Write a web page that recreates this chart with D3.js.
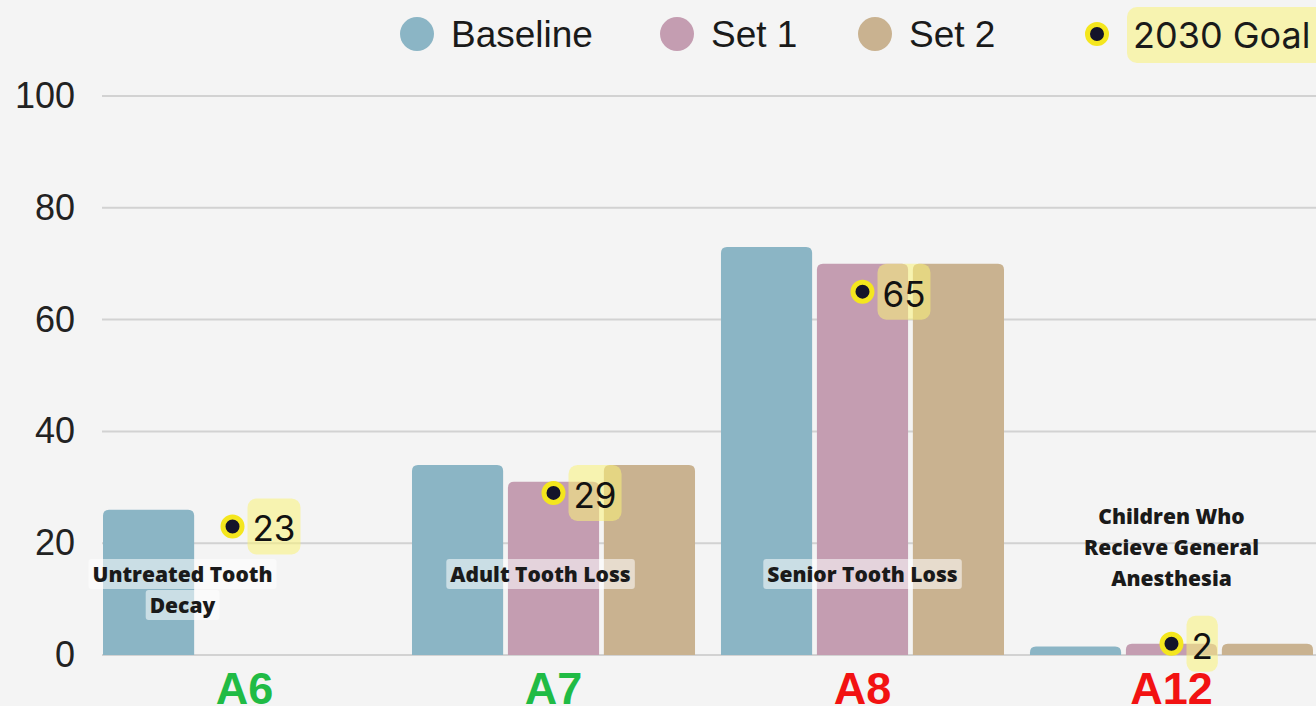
<!DOCTYPE html>
<html>
<head>
<meta charset="utf-8">
<script src="https://cdn.jsdelivr.net/npm/d3@7"></script>
<style>
  html, body { margin: 0; padding: 0; background: #f4f4f4; overflow: hidden; }
  svg { display: block; }
</style>
</head>
<body>
<div class="canvas"></div>
<script>
// data
const codes = ['A6', 'A7', 'A8', 'A12'];
const names = [['Untreated Tooth', 'Decay'], ['Adult Tooth Loss'], ['Senior Tooth Loss'], ['Children Who', 'Recieve General', 'Anesthesia']];
const codeStatus = ['good', 'good', 'bad', 'bad'];
const seriesNames = ['Baseline', 'Set 1', 'Set 2'];
const baseline = [26, 34, 73, 1.5];
const set1 = [null, 31, 70, 2];
const set2 = [null, 34, 70, 2];
const goal = [23, 29, 65, 2];
const yTicks = [0, 20, 40, 60, 80, 100];

// layout
const W = 1316, H = 706;
const colors = {'Baseline': '#8bb5c5', 'Set 1': '#c49db1', 'Set 2': '#c9b290'};
const statusColor = {good: '#20bb45', bad: '#f21212'};
const nameDx = [-62, -13, 0, 0];     // label shifts inside each group
const nameTop = [574, 574, 574, 516];
const legendX = [417, 677, 875, 1097];

const svg = d3.select('.canvas')
    .append('svg')
    .attr('width', W)
    .attr('height', H);

svg.append('rect').attr('width', W).attr('height', H).attr('fill', '#f4f4f4');

// scales
const y = d3.scaleLinear().domain([0, 100]).range([655, 96]);
const x0 = d3.scaleBand().domain(codes).range([103, 1313]).paddingInner(0.084).paddingOuter(0);
const x1 = d3.scaleBand().domain(seriesNames).range([0, x0.bandwidth()]).paddingInner(0.05);

// grid
svg.append('g')
    .selectAll('line')
    .data(yTicks)
    .join('line')
    .attr('x1', 102).attr('x2', W)
    .attr('y1', d => y(d)).attr('y2', d => y(d))
    .attr('stroke', '#d2d2d2')
    .attr('stroke-width', 2);

// y axis
const yAxis = d3.axisLeft(y).tickValues(yTicks).tickSize(0).tickPadding(5);
const yAxisGroup = svg.append('g').attr('transform', 'translate(80,0)').call(yAxis);
yAxisGroup.select('.domain').remove();
yAxisGroup.selectAll('text')
    .attr('font-family', 'Liberation Sans, Arial, sans-serif')
    .attr('font-size', 36)
    .attr('fill', '#222');

// bars with rounded top corners
const topRounded = (bx, by, bw, bh, r) => {
    r = Math.min(r, bh, bw / 2);
    return `M${bx},${by + bh}V${by + r}Q${bx},${by} ${bx + r},${by}H${bx + bw - r}Q${bx + bw},${by} ${bx + bw},${by + r}V${by + bh}Z`;
};

const seriesValues = [baseline, set1, set2];
const barData = [];
codes.forEach((c, i) => {
    seriesNames.forEach((s, j) => {
        const v = seriesValues[j][i];
        if (v != null) barData.push({code: c, series: s, value: v});
    });
});

svg.append('g')
    .selectAll('path')
    .data(barData)
    .join('path')
    .attr('fill', d => colors[d.series])
    .attr('d', d => {
        const bx = x0(d.code) + x1(d.series);
        return topRounded(bx, y(d.value), x1.bandwidth(), y(0) - y(d.value), 6);
    });

// category names with soft boxes
const nameGroup = svg.append('g');
codes.forEach((c, i) => {
    const cx = x0(c) + x0.bandwidth() / 2 + nameDx[i];
    names[i].forEach((line, k) => {
        const ty = nameTop[i] + k * 31;
        const box = nameGroup.append('rect');
        const t = nameGroup.append('text')
            .attr('x', cx).attr('y', ty)
            .attr('text-anchor', 'middle')
            .attr('dominant-baseline', 'central')
            .attr('font-family', 'Open Sans, sans-serif')
            .attr('font-weight', 800)
            .attr('font-size', 21)
            .attr('fill', '#1a1a1a')
            .text(line);
        const bb = t.node().getBBox();
        if (i < 3) {
            box.attr('x', bb.x - 4).attr('y', bb.y - 1)
                .attr('width', bb.width + 8).attr('height', bb.height + 2)
                .attr('rx', 3)
                .attr('fill', 'rgba(255,255,255,0.55)');
        }
    });
});

// 2030 goal markers
const goalGroup = svg.append('g');
codes.forEach((c, i) => {
    const gx = x0(c) + x0.bandwidth() / 2 - (i === 0 ? 12 : 0);
    const gy = y(goal[i]);
    const box = goalGroup.append('rect');
    const t = goalGroup.append('text')
        .attr('x', gx + 20).attr('y', gy + 2)
        .attr('dominant-baseline', 'central')
        .attr('font-family', 'Inter, sans-serif')
        .attr('font-size', 35)
        .attr('fill', '#111')
        .text(goal[i]);
    const bb = t.node().getBBox();
    box.attr('x', bb.x - 5).attr('y', gy - 28)
        .attr('width', bb.width + 10).attr('height', 56)
        .attr('rx', 9)
        .attr('fill', 'rgba(250,242,120,0.55)');
    goalGroup.append('circle')
        .attr('cx', gx).attr('cy', gy).attr('r', 9.5)
        .attr('fill', '#14142a')
        .attr('stroke', '#f4e61e')
        .attr('stroke-width', 5);
});

// codes under groups
svg.append('g')
    .selectAll('text')
    .data(codes)
    .join('text')
    .attr('x', d => x0(d) + x0.bandwidth() / 2)
    .attr('y', 704)
    .attr('text-anchor', 'middle')
    .attr('font-family', 'Liberation Sans, Arial, sans-serif')
    .attr('font-weight', 700)
    .attr('font-size', 45)
    .attr('fill', (d, i) => statusColor[codeStatus[i]])
    .text(d => d);

// legend
const legend = svg.append('g');
seriesNames.forEach((s, i) => {
    legend.append('circle')
        .attr('cx', legendX[i]).attr('cy', 34).attr('r', 17)
        .attr('fill', colors[s]);
    legend.append('text')
        .attr('x', legendX[i] + 34).attr('y', 34)
        .attr('dominant-baseline', 'central')
        .attr('font-family', 'Liberation Sans, Arial, sans-serif')
        .attr('font-size', 37)
        .attr('fill', '#1a1a1a')
        .text(s);
});
legend.append('rect')
    .attr('x', 1127).attr('y', 7).attr('width', 220).attr('height', 56)
    .attr('rx', 10)
    .attr('fill', 'rgba(250,242,120,0.55)');
legend.append('circle')
    .attr('cx', legendX[3]).attr('cy', 34).attr('r', 9.5)
    .attr('fill', '#14142a')
    .attr('stroke', '#f4e61e')
    .attr('stroke-width', 5);
legend.append('text')
    .attr('x', 1133).attr('y', 35)
    .attr('dominant-baseline', 'central')
    .attr('font-family', 'Inter, sans-serif')
    .attr('font-size', 36)
    .attr('fill', '#1a1a1a')
    .text('2030 Goal');
</script>
</body>
</html>
